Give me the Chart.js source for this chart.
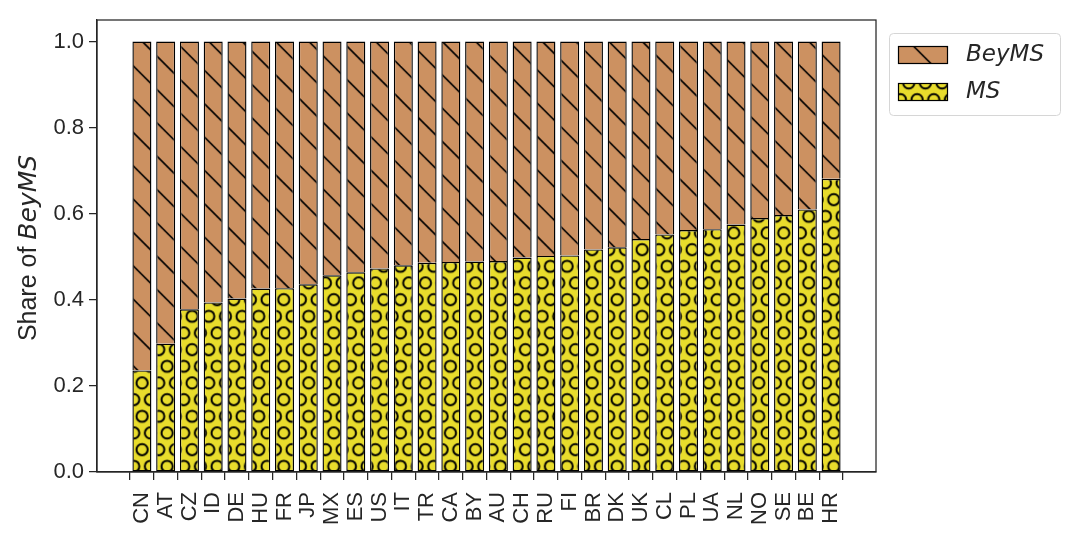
<!DOCTYPE html>
<html><head><meta charset="utf-8">
<script src="https://cdn.jsdelivr.net/npm/chart.js@4.4.0/dist/chart.umd.min.js"></script>
<style>html,body{margin:0;padding:0;background:#fff}</style>
</head><body>
<canvas id="c" width="1075" height="538" style="width:1075px;height:538px;display:block"></canvas>
<script>
const categories = ['CN','AT','CZ','ID','DE','HU','FR','JP','MX','ES','US','IT','TR','CA','BY','AU','CH','RU','FI','BR','DK','UK','CL','PL','UA','NL','NO','SE','BE','HR'];
const msShare = [0.236,0.298,0.378,0.394,0.403,0.426,0.427,0.436,0.457,0.464,0.473,0.480,0.486,0.488,0.489,0.490,0.498,0.502,0.503,0.517,0.522,0.541,0.552,0.562,0.564,0.575,0.590,0.597,0.610,0.681];
const beyMSShare = [0.764,0.702,0.622,0.606,0.597,0.574,0.573,0.564,0.543,0.536,0.527,0.520,0.514,0.512,0.511,0.510,0.502,0.498,0.497,0.483,0.478,0.459,0.448,0.438,0.436,0.425,0.410,0.403,0.390,0.319];
const yTicks = [0.0,0.2,0.4,0.6,0.8,1.0];
const seriesNames = ['BeyMS','MS'];

const BROWN = '#cc9161', YELLOW = '#e8dc2c', INK = '#262626';
const canvas = document.getElementById('c');
const ctx = canvas.getContext('2d');

function linePattern(bg, dx, dy) {
  const c = document.createElement('canvas'); c.width = 100; c.height = 100;
  const g = c.getContext('2d');
  g.fillStyle = bg; g.fillRect(0,0,100,100);
  g.strokeStyle = '#000'; g.lineWidth = 1.6;
  const p = 100/3;
  for (let k = -4; k <= 4; k++) { g.beginPath(); g.moveTo(-10, k*p-10); g.lineTo(110, k*p+110); g.stroke(); }
  const pat = ctx.createPattern(c, 'repeat');
  pat.setTransform(new DOMMatrix().translate(dx, dy));
  return pat;
}
function circlePattern(bg, dx, dy) {
  const c = document.createElement('canvas'); c.width = 100; c.height = 100;
  const g = c.getContext('2d');
  g.fillStyle = bg; g.fillRect(0,0,100,100);
  g.strokeStyle = '#000'; g.lineWidth = 2;
  const o = 100/6;
  for (let r = -1; r <= 7; r++) {
    const sh = (Math.abs(r) % 2 === 1) ? o/2 : 0;
    for (let col = -1; col <= 7; col++) {
      g.beginPath(); g.arc(col*o + sh, r*o, 5.6, 0, Math.PI*2); g.stroke();
    }
  }
  const pat = ctx.createPattern(c, 'repeat');
  pat.setTransform(new DOMMatrix().translate(dx, dy));
  return pat;
}
const beyPat = linePattern(BROWN, 0.7, 0);
const msPat = circlePattern(YELLOW, 8.7, 16.3);

const TICKFONT = '"Liberation Sans", Arial, sans-serif';

const framePlugin = {
  id: 'frame',
  afterDatasetsDraw(chart) {
    const a = chart.chartArea, g = chart.ctx;
    g.save(); g.strokeStyle = INK; g.lineWidth = 1.25;
    g.strokeRect(a.left, a.top, a.right - a.left, a.bottom - a.top);
    g.restore();
  }
};
const ylabelPlugin = {
  id: 'ylabel',
  afterDraw(chart) {
    const g = chart.ctx;
    g.save();
    g.translate(29, 248); g.rotate(-Math.PI/2);
    g.fillStyle = INK; g.textBaseline = 'middle'; g.textAlign = 'left';
    const f1 = '25px ' + TICKFONT;
    const f2 = 'italic 25px "DejaVu Sans", sans-serif';
    const t1 = 'Share of ', t2 = seriesNames[0];
    g.font = f1; const w1 = g.measureText(t1).width;
    g.font = f2; const w2 = g.measureText(t2).width;
    let x = -(w1 + w2)/2;
    g.font = f1; g.fillText(t1, x, 0);
    g.font = f2; g.fillText(t2, x + w1, 0);
    g.restore();
  }
};
const legendPlugin = {
  id: 'mylegend',
  afterDraw(chart) {
    const g = chart.ctx;
    g.save();
    const bx = 889, by = 33, bw = 171, bh = 82, r = 4;
    g.beginPath(); g.roundRect(bx+0.5, by+0.5, bw, bh, r);
    g.fillStyle = 'rgba(255,255,255,0.8)'; g.fill();
    g.strokeStyle = '#d6d6d6'; g.lineWidth = 1; g.stroke();
    const items = [[seriesNames[0], beyPat, 46], [seriesNames[1], msPat, 83]];
    for (const [name, pat, y] of items) {
      g.fillStyle = pat; g.fillRect(898, y, 50, 18);
      g.strokeStyle = '#000'; g.lineWidth = 1.2; g.strokeRect(898.5, y+0.5, 49, 17);
      g.fillStyle = INK; g.font = 'italic 23px "DejaVu Sans", sans-serif';
      g.textBaseline = 'middle'; g.textAlign = 'left';
      g.fillText(name, 966, y + 9);
    }
    g.restore();
  }
};

new Chart(ctx, {
  type: 'bar',
  data: {
    datasets: [
      { label: seriesNames[1], data: msShare.map((v,i)=>({x:i, y:v})), backgroundColor: msPat,
        borderColor: '#000', borderWidth: {top:1.4,left:1.4,right:1.4,bottom:1.4}, borderSkipped: false },
      { label: seriesNames[0], data: beyMSShare.map((v,i)=>({x:i, y:v})), backgroundColor: beyPat,
        borderColor: '#000', borderWidth: {top:1.4,left:1.4,right:1.4,bottom:0}, borderSkipped: false }
    ]
  },
  options: {
    responsive: false, animation: false, devicePixelRatio: 1,
    layout: { padding: { top: 20, right: 199, bottom: 0, left: 0 } },
    datasets: { bar: { barPercentage: 0.8, categoryPercentage: 1.0 } },
    plugins: { legend: { display: false }, tooltip: { enabled: false } },
    scales: {
      x: {
        type: 'linear', stacked: true, min: -1.89, max: 30.89, offset: false,
        afterBuildTicks(s) { s.ticks = categories.map((_, i) => ({ value: i })); },
        afterFit(s) { s.height = 66; },
        ticks: { autoSkip: false, maxRotation: 90, minRotation: 90, padding: 12,
          color: INK, font: { family: TICKFONT, size: 22 },
          callback: (v) => categories[v] },
        grid: { display: true, drawOnChartArea: false, drawTicks: true, tickLength: 8, color: INK, lineWidth: 1.25 },
        border: { display: true, color: INK, width: 1.25 }
      },
      y: {
        type: 'linear', stacked: true, min: 0, max: 1.05,
        afterBuildTicks(s) { s.ticks = yTicks.map(v => ({ value: v })); },
        afterFit(s) { s.width = 97; },
        ticks: { padding: 5, color: INK, font: { family: TICKFONT, size: 22 },
          callback: (v) => Number(v).toFixed(1) },
        grid: { display: true, drawOnChartArea: false, drawTicks: true, tickLength: 8, color: INK, lineWidth: 1.25 },
        border: { display: true, color: INK, width: 1.25 }
      }
    }
  },
  plugins: [framePlugin, ylabelPlugin, legendPlugin]
});
</script>
</body></html>
